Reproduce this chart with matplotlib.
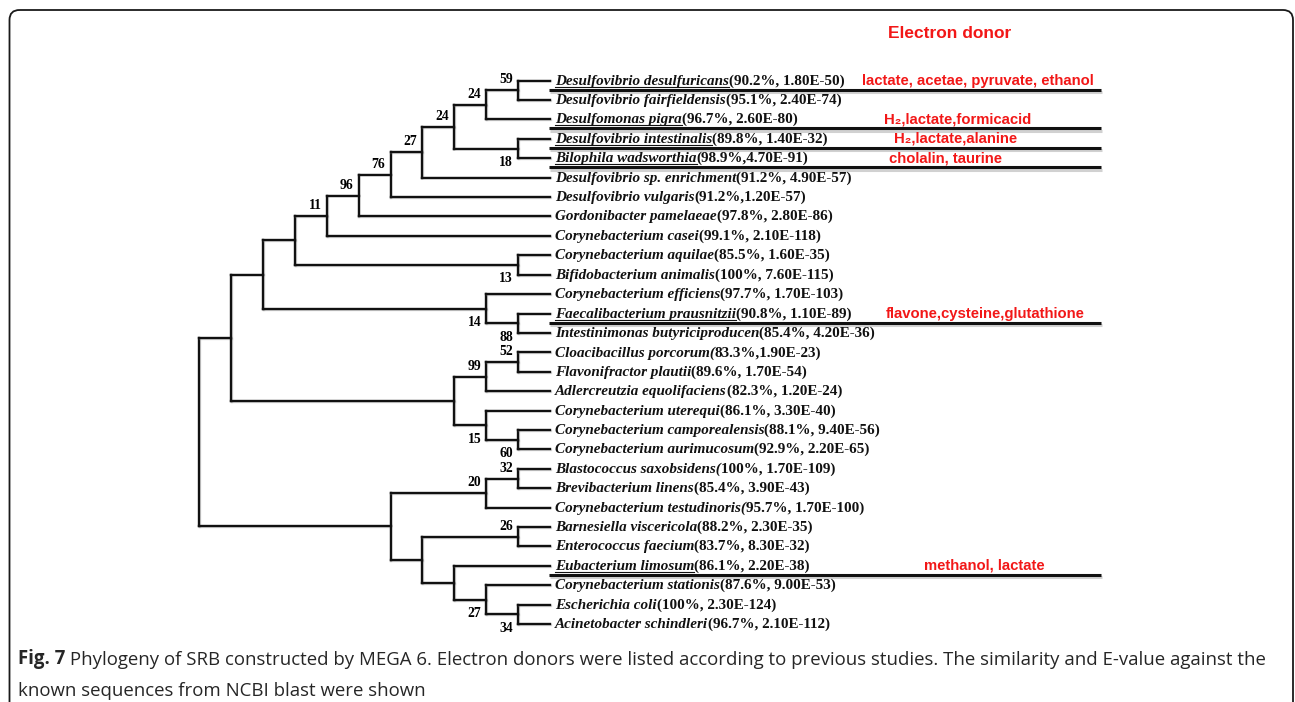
import matplotlib
matplotlib.use("Agg")
import matplotlib.pyplot as plt
import matplotlib.patheffects as pe
from matplotlib.patches import FancyBboxPatch

# leaf names (italic part) and blast stats (upright part)
taxa = [
    "Desulfovibrio desulfuricans", "Desulfovibrio fairfieldensis", "Desulfomonas pigra",
    "Desulfovibrio intestinalis", "Bilophila wadsworthia", "Desulfovibrio sp. enrichment",
    "Desulfovibrio vulgaris", "Gordonibacter pamelaeae", "Corynebacterium casei",
    "Corynebacterium aquilae", "Bifidobacterium animalis", "Corynebacterium efficiens",
    "Faecalibacterium prausnitzii", "Intestinimonas butyriciproducen", "Cloacibacillus porcorum(",
    "Flavonifractor plautii", "Adlercreutzia equolifaciens", "Corynebacterium uterequi",
    "Corynebacterium camporealensis", "Corynebacterium aurimucosum", "Blastococcus saxobsidens(",
    "Brevibacterium linens", "Corynebacterium testudinoris(", "Barnesiella viscericola",
    "Enterococcus faecium", "Eubacterium limosum", "Corynebacterium stationis",
    "Escherichia coli", "Acinetobacter schindleri",
]
stats = [
    "(90.2%, 1.80E-50)", "(95.1%, 2.40E-74)", "(96.7%, 2.60E-80)",
    "(89.8%, 1.40E-32)", "(98.9%,4.70E-91)", "(91.2%, 4.90E-57)",
    "(91.2%,1.20E-57)", "(97.8%, 2.80E-86)", "(99.1%, 2.10E-118)",
    "(85.5%, 1.60E-35)", "(100%, 7.60E-115)", "(97.7%, 1.70E-103)",
    "(90.8%, 1.10E-89)", "(85.4%, 4.20E-36)", "83.3%,1.90E-23)",
    "(89.6%, 1.70E-54)", "(82.3%, 1.20E-24)", "(86.1%, 3.30E-40)",
    "(88.1%, 9.40E-56)", "(92.9%, 2.20E-65)", "100%, 1.70E-109)",
    "(85.4%, 3.90E-43)", "95.7%, 1.70E-100)", "(88.2%, 2.30E-35)",
    "(83.7%, 8.30E-32)", "(86.1%, 2.20E-38)", "(87.6%, 9.00E-53)",
    "(100%, 2.30E-124)", "(96.7%, 2.10E-112)",
]

# tree topology: (bootstrap, child1, child2), leaves are indices into taxa
tree = (None,
        (None,
         (None,
          (None,
           (11, (96, (76, (27, (24, (24, (59, 0, 1), 2), (18, 3, 4)), 5), 6), 7), 8),
           (13, 9, 10)),
          (14, 11, (88, 12, 13))),
         (None, (99, (52, 14, 15), 16), (15, 17, (60, 18, 19)))),
        (None, (20, (32, 20, 21), 22),
         (None, (26, 23, 24), (None, 25, (27, 26, (34, 27, 28))))))

# electron donors
donor_rows = [0, 2, 3, 4, 12, 25]
donors = ["lactate, acetae, pyruvate, ethanol", "H\u2082,lactate,formicacid",
          "H\u2082,lactate,alanine", "cholalin, taurine",
          "flavone,cysteine,glutathione", "methanol, lactate"]
donor_x = [862, 884, 894, 889, 886, 924]

caption_bold = "Fig. 7"
caption_1 = (" Phylogeny of SRB constructed by MEGA 6. Electron donors were listed according to "
             "previous studies. The similarity and E-value against the")
caption_2 = "known sequences from NCBI blast were shown"

fig = plt.figure(figsize=(12.95, 7.02), dpi=100)
ax = fig.add_axes([0, 0, 1, 1])
ax.set_xlim(0, 1295)
ax.set_ylim(702, 0)
ax.axis('off')

x_leaf, dx = 550, 31.9
y0, dy = 80.6, 19.41
red = '#f21717'
shadow = [pe.SimpleLineShadow(offset=(0.6, -0.6), shadow_color='#888888', alpha=0.3), pe.Normal()]


def layout(node):
    if isinstance(node, int):
        return x_leaf, y0 + dy * node, 0
    kids = [layout(c) for c in node[1:]]
    h = 1 + max(k[2] for k in kids)
    return x_leaf - dx * h, (kids[0][1] + kids[-1][1]) / 2, h


def draw(node):
    x, y, _ = layout(node)
    if isinstance(node, int):
        return
    kids = node[1:]
    pos = [layout(c) for c in kids]
    ax.plot([x, x], [pos[0][1], pos[-1][1]], color='#111111', lw=1.7,
            solid_capstyle='projecting', path_effects=shadow)
    for i, (c, (cx, cy, _)) in enumerate(zip(kids, pos)):
        ax.plot([x, cx], [cy, cy], color='#111111', lw=1.7,
                solid_capstyle='projecting', path_effects=shadow)
        if not isinstance(c, int) and c[0] is not None:
            ty = cy - 7 if i == 0 else cy + 17.5
            ax.text(cx - 5, ty, str(c[0]), ha='right', va='baseline',
                    fontfamily='Liberation Serif', fontweight='bold', fontsize=9.8)
        draw(c)


draw(tree)

name_texts = []
for i, (name, st) in enumerate(zip(taxa, stats)):
    y = y0 + dy * i
    t1 = ax.text(555, y + 4, name, va='baseline', ha='left', fontfamily='Liberation Serif',
                 fontweight='bold', fontstyle='italic', fontsize=10.9, color='#111111')
    ax.annotate(st, xy=(1, 0), xycoords=t1, va='bottom', ha='left',
                fontfamily='Liberation Serif', fontweight='bold', fontsize=10.9, color='#111111')
    name_texts.append(t1)

for r, d, xx in zip(donor_rows, donors, donor_x):
    y = y0 + dy * r
    ax.text(xx, y, d, va='center', ha='left', color=red, fontweight='bold',
            fontsize=10.7, family=['Liberation Sans', 'DejaVu Sans'])
    ax.plot([549, 1101], [y + 9, y + 9], color='#111111', lw=2.2, solid_capstyle='butt',
            path_effects=[pe.SimpleLineShadow(offset=(0.5, -1.8), shadow_color='#999999', alpha=0.45),
                          pe.Normal()])

ax.text(888, 34, "Electron donor", va='center', ha='left', color=red, fontweight='bold',
        fontsize=12.5, fontfamily='Liberation Sans')

frame = FancyBboxPatch((9.5, 10), 1283.5, 740, boxstyle="round,pad=0,rounding_size=10",
                       fill=False, ec='#1a1a1a', lw=1.3)
ax.add_patch(frame)

cap_fs = 11.0
cb = ax.text(18, 664, caption_bold, va='baseline', ha='left', fontfamily='Open Sans',
             fontweight='bold', fontsize=cap_fs, color='#262626')
c1 = ax.annotate(caption_1, xy=(1, 0), xycoords=cb, va='bottom', ha='left',
                 fontfamily='Open Sans', fontsize=cap_fs, color='#262626')
c2 = ax.text(18, 696, caption_2, va='baseline', ha='left', fontfamily='Open Sans',
             fontsize=cap_fs, color='#262626')

fig.canvas.draw()
inv = ax.transData.inverted()
bb = c1.get_window_extent()
right = inv.transform((bb.x1, bb.y0))[0]
scale = (1273 - 18) / (right - 18)
for t in (cb, c1, c2):
    t.set_fontsize(cap_fs * scale)

# underline the names of SRB with known electron donors
fig.canvas.draw()
inv = ax.transData.inverted()
for r in donor_rows:
    bb = name_texts[r].get_window_extent()
    xa = inv.transform((bb.x0, bb.y0))[0]
    xb = inv.transform((bb.x1, bb.y0))[0]
    y = y0 + dy * r + 6
    ax.plot([xa, xb], [y, y], color='#111111', lw=0.8)

fig.savefig("out.png", dpi=100)
